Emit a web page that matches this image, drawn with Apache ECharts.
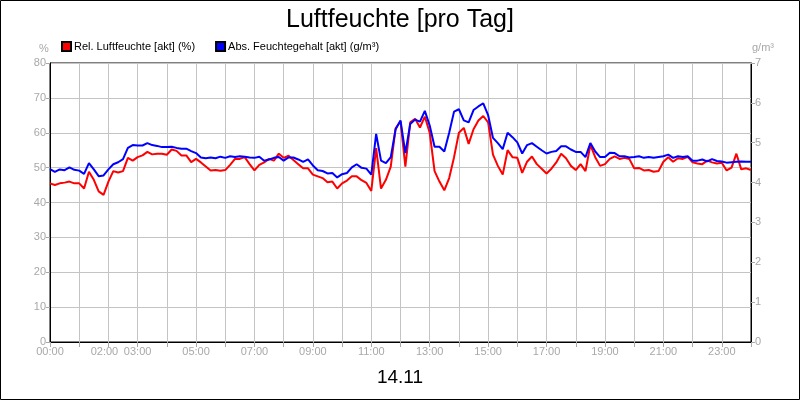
<!DOCTYPE html>
<html>
<head>
<meta charset="utf-8">
<script src="https://cdn.jsdelivr.net/npm/echarts@6/dist/echarts.min.js"></script>
<style>html,body{margin:0;padding:0;background:#fff}#c{width:800px;height:400px}</style>
</head>
<body>
<div id="c"></div>
<script>
// sampling step of the series (minutes)
const STEP = 10;
const title = 'Luftfeuchte [pro Tag]';
const dayLabel = '14.11';
const seriesNames = ['Rel. Luftfeuchte [akt] (%)', 'Abs. Feuchtegehalt [akt] (g/m³)'];
const shownHourLabels = ['00:00','02:00','03:00','05:00','07:00','09:00','11:00','13:00','15:00','17:00','19:00','21:00','23:00'];

// relative humidity (%) every 10 min from 00:00 to 24:00
const relHum = [
 45.5,45,45.5,45.7,46,45.5,45.5,44,48.8,46.5,
 43.2,42.2,46,49,48.6,49,52.8,52,53,53.5,
 54.5,53.8,54,54,53.7,55.2,54.8,53.5,53.5,51.6,
 52.5,51.5,50.3,49.2,49.3,49.1,49.3,50.8,52.5,52.5,
 53,51,49.2,50.8,51.5,52.5,52,54,52.8,53.4,
 52.2,51,49.8,49.8,48,47.5,47,45.8,46,44,
 45.5,46.3,47.5,47.5,46.4,45.6,43.3,55.6,44,46.5,
 50.3,61.3,63.3,50.3,63,64,61.5,64.6,60,49,
 46,43.5,47,53,60,61.4,56.8,61,63.5,64.8,
 63,53.7,50.5,48,55,53,52.8,48.5,51.7,53.2,
 51,49.7,48.3,49.7,51.5,54,52.7,50.5,49.3,51,
 49,56.5,53,50.5,51,52.5,53.2,52.5,52.8,52.5,
 49.8,49.9,49.2,49.3,48.8,49,51.7,53,51.7,52.7,
 52.5,53.1,51.5,51.2,51,52,51.5,51.2,51.4,49.2,
 50,54,49.5,49.8,49.3
];
// absolute humidity (g/m³) every 10 min from 00:00 to 24:00
const absHum = [
 4.34,4.27,4.33,4.31,4.38,4.32,4.30,4.22,4.49,4.33,
 4.16,4.18,4.33,4.46,4.51,4.59,4.87,4.94,4.93,4.93,
 4.99,4.94,4.92,4.89,4.89,4.90,4.87,4.85,4.85,4.79,
 4.74,4.63,4.61,4.63,4.61,4.65,4.62,4.66,4.64,4.66,
 4.65,4.63,4.62,4.65,4.55,4.58,4.62,4.64,4.55,4.63,
 4.63,4.58,4.52,4.58,4.43,4.31,4.29,4.23,4.24,4.13,
 4.21,4.24,4.38,4.46,4.37,4.35,4.20,5.22,4.55,4.49,
 4.64,5.34,5.56,4.74,5.47,5.58,5.53,5.80,5.43,4.90,
 4.90,4.78,5.25,5.78,5.84,5.56,5.51,5.82,5.91,5.99,
 5.69,5.12,4.99,4.84,5.25,5.14,5.01,4.73,4.94,4.99,
 4.90,4.81,4.73,4.77,4.79,4.91,4.91,4.83,4.77,4.77,
 4.64,4.99,4.78,4.64,4.64,4.75,4.74,4.66,4.66,4.63,
 4.64,4.66,4.62,4.64,4.62,4.64,4.66,4.70,4.62,4.66,
 4.64,4.66,4.55,4.55,4.58,4.53,4.59,4.54,4.53,4.50,
 4.51,4.52,4.53,4.52,4.52
];

const FONT = 'Arial, "Liberation Sans", sans-serif';
const GREY = '#a8a8a8';
const chart = echarts.init(document.getElementById('c'), null, {renderer: 'canvas'});

function fmtTime(m) {
  const h = Math.floor(m / 60);
  return (h < 10 ? '0' : '') + h + ':00';
}

chart.setOption({
  animation: false,
  backgroundColor: '#fff',
  textStyle: {fontFamily: FONT},
  title: {
    text: title, left: 'center', top: 3,
    textStyle: {fontSize: 25, fontWeight: 'normal', color: '#000', fontFamily: FONT}
  },
  legend: {
    left: 56, top: 36, itemWidth: 9, itemHeight: 9, itemGap: 20, icon: 'rect',
    textStyle: {fontSize: 11, color: '#000', fontFamily: FONT, padding: [0, 0, 0, -2]},
    data: seriesNames
  },
  graphic: [
    {type: 'rect', shape: {x: 0.5, y: 0.5, width: 799, height: 399}, style: {fill: 'none', stroke: '#000', lineWidth: 1}, silent: true},
    {type: 'text', left: 39, top: 43, style: {text: '%', fill: GREY, font: '11px ' + FONT}},
    {type: 'text', left: 752, top: 42, style: {text: 'g/m³', fill: GREY, font: '11px ' + FONT}},
    {type: 'text', left: 'center', top: 368, style: {text: dayLabel, fill: '#000', font: '19px ' + FONT}}
  ],
  grid: {left: 50, right: 49, top: 63, bottom: 58, show: true, borderColor: '#000', borderWidth: 1, backgroundColor: 'transparent'},
  xAxis: {
    type: 'value', min: 0, max: 1440, interval: 60,
    axisLine: {show: true, lineStyle: {color: '#000', width: 1}},
    axisTick: {show: true, length: 5, lineStyle: {color: GREY}},
    splitLine: {show: true, lineStyle: {color: '#c4c4c4', width: 1}},
    axisLabel: {
      color: GREY, fontSize: 11, fontFamily: FONT, margin: 4,
      formatter: function (v) {
        const s = fmtTime(v);
        if (shownHourLabels.indexOf(s) < 0 || v >= 1440) return '';
        if (s === '02:00') return '{l|' + s + '}';
        return s;
      },
      rich: {l: {color: GREY, fontSize: 11, fontFamily: FONT, padding: [0, 8, 0, 0]}}
    }
  },
  yAxis: [
    {
      type: 'value', min: 0, max: 80, interval: 10, position: 'left',
      axisLine: {show: true, lineStyle: {color: '#000', width: 1}},
      axisTick: {show: true, length: 4, lineStyle: {color: GREY}},
      splitLine: {show: true, lineStyle: {color: '#c4c4c4', width: 1}},
      axisLabel: {color: GREY, fontSize: 11, fontFamily: FONT, margin: 4}
    },
    {
      type: 'value', min: 0, max: 7, interval: 1, position: 'right',
      axisLine: {show: true, lineStyle: {color: '#000', width: 1}},
      axisTick: {show: true, length: 4, lineStyle: {color: GREY}},
      splitLine: {show: false},
      axisLabel: {color: GREY, fontSize: 11, fontFamily: FONT, margin: 4}
    }
  ],
  series: [
    {
      name: seriesNames[0], type: 'line', yAxisIndex: 0, showSymbol: false, symbol: 'none',
      lineStyle: {color: '#ff0000', width: 2}, itemStyle: {color: '#ff0000', borderColor: '#000', borderWidth: 0.5},
      data: relHum.map((v, i) => [i * STEP, v])
    },
    {
      name: seriesNames[1], type: 'line', yAxisIndex: 1, showSymbol: false, symbol: 'none',
      lineStyle: {color: '#0000ff', width: 2}, itemStyle: {color: '#0000ff', borderColor: '#000', borderWidth: 0.5},
      data: absHum.map((v, i) => [i * STEP, v])
    }
  ]
});
</script>
</body>
</html>
